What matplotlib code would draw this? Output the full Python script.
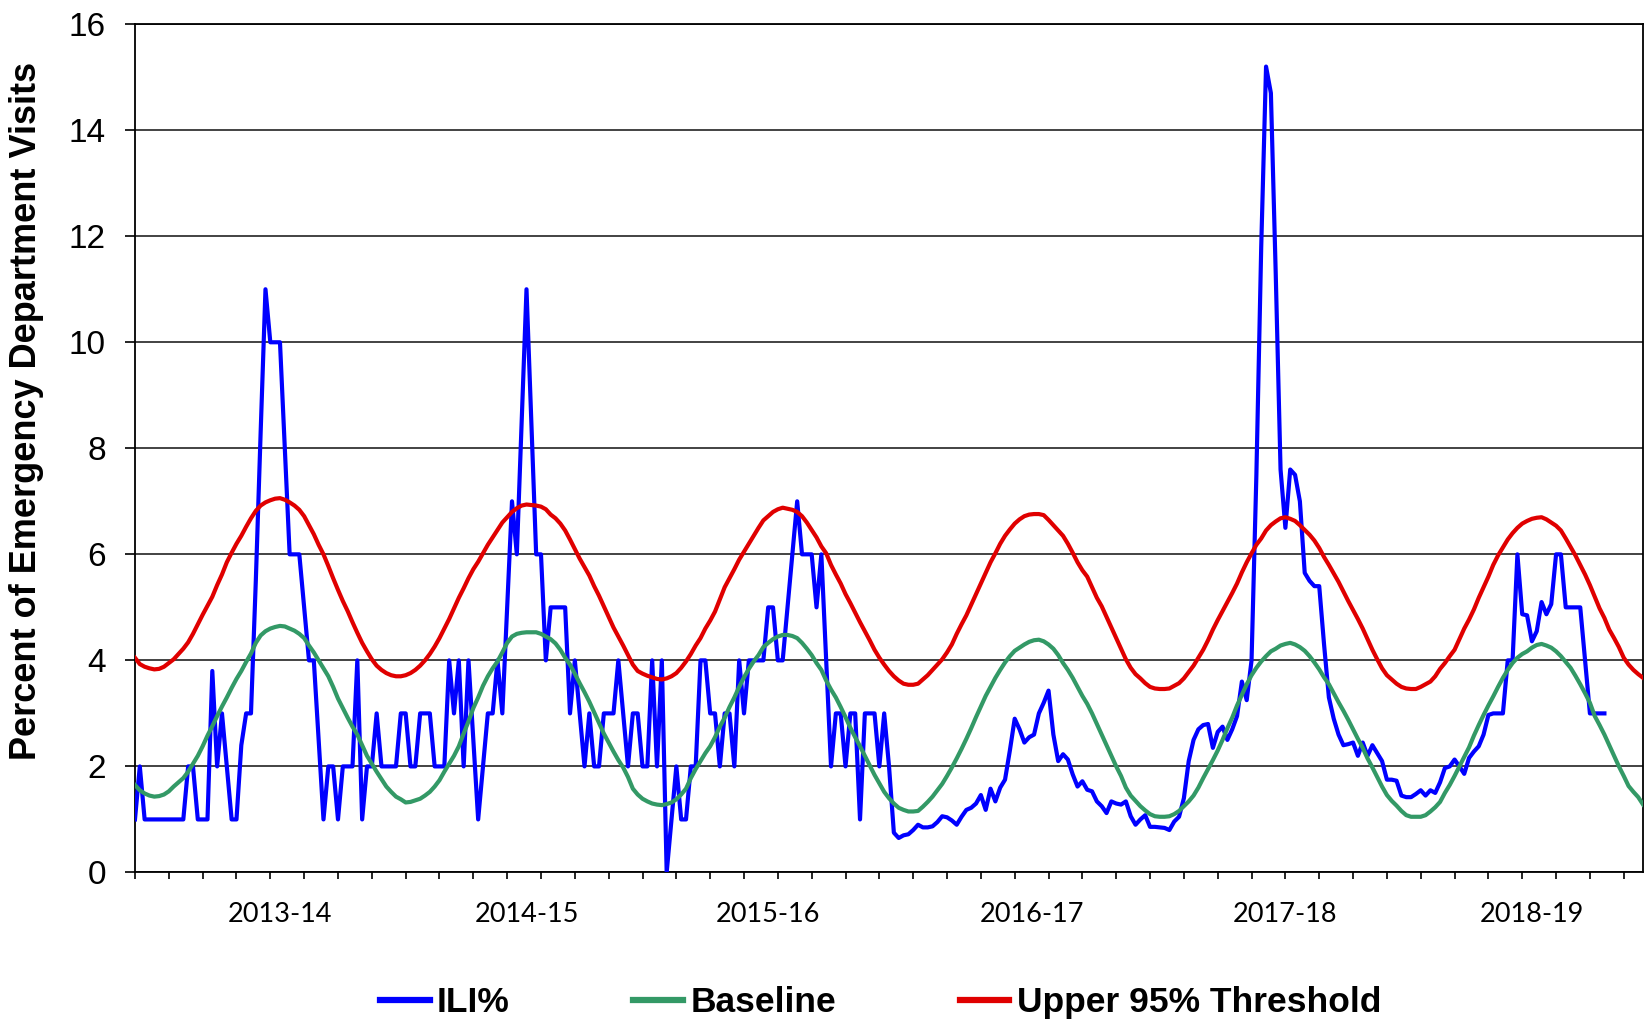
import numpy as np
import matplotlib
matplotlib.use("Agg")
import matplotlib.pyplot as plt
import matplotlib.transforms as mtransforms

plt.rcParams['font.family'] = ['Liberation Sans', 'DejaVu Sans']

# weekly ILI % of ED visits (week 0 = first week shown)
ili = [
    1, 2, 1, 1, 1, 1, 1, 1, 1, 1,
    1, 2, 2, 1, 1, 1, 3.8, 2, 3, 2,
    1, 1, 2.4, 3, 3, 5.5, 8.3, 11, 10, 10,
    10, 8, 6, 6, 6, 5, 4, 4, 2.5, 1,
    2, 2, 1, 2, 2, 2, 4, 1, 2, 2,
    3, 2, 2, 2, 2, 3, 3, 2, 2, 3,
    3, 3, 2, 2, 2, 4, 3, 4, 2, 4,
    2.5, 1, 2, 3, 3, 4, 3, 5, 7, 6,
    8.5, 11, 8.5, 6, 6, 4, 5, 5, 5, 5,
    3, 4, 3, 2, 3, 2, 2, 3, 3, 3,
    4, 3, 2, 3, 3, 2, 2, 4, 2, 4,
    0, 1, 2, 1, 1, 2, 2, 4, 4, 3,
    3, 2, 3, 3, 2, 4, 3, 4, 4, 4,
    4, 5, 5, 4, 4, 5, 6, 7, 6, 6,
    6, 5, 6, 4, 2, 3, 3, 2, 3, 3,
    1, 3, 3, 3, 2, 3, 2, 0.75, 0.65, 0.7,
    0.72, 0.8, 0.9, 0.85, 0.85, 0.87, 0.95, 1.06, 1.04, 0.98,
    0.9, 1.05, 1.18, 1.22, 1.3, 1.46, 1.18, 1.58, 1.34, 1.6,
    1.75, 2.3, 2.9, 2.7, 2.45, 2.55, 2.6, 3.0, 3.2, 3.43,
    2.6, 2.1, 2.23, 2.13, 1.85, 1.62, 1.72, 1.56, 1.53, 1.34,
    1.25, 1.12, 1.34, 1.3, 1.28, 1.34, 1.06, 0.9, 1.0, 1.08,
    0.86, 0.86, 0.85, 0.84, 0.8, 0.96, 1.05, 1.4, 2.1, 2.5,
    2.7, 2.78, 2.8, 2.35, 2.65, 2.75, 2.5, 2.7, 2.95, 3.6,
    3.25, 4.0, 7.5, 11.8, 15.2, 14.7, 11.3, 7.6, 6.5, 7.6,
    7.5, 7.0, 5.65, 5.5, 5.4, 5.4, 4.3, 3.3, 2.9, 2.6,
    2.4, 2.42, 2.45, 2.2, 2.45, 2.2, 2.4, 2.25, 2.1, 1.75,
    1.75, 1.73, 1.45, 1.42, 1.42, 1.48, 1.55, 1.45, 1.55, 1.5,
    1.7, 1.97, 2.0, 2.13, 2.0, 1.86, 2.16, 2.28, 2.38, 2.6,
    2.97, 3, 3, 3, 4, 4, 6, 4.87, 4.85, 4.36,
    4.55, 5.1, 4.87, 5.06, 6, 6, 5, 5, 5, 5,
    4, 3, 3, 3, 3,
]

baseline = [
    1.65, 1.55, 1.49, 1.45, 1.43, 1.44, 1.47, 1.53, 1.62, 1.7,
    1.78, 1.9, 2.05, 2.2, 2.38, 2.58, 2.76, 2.95, 3.13, 3.3,
    3.48, 3.65, 3.8, 3.97, 4.13, 4.33, 4.47, 4.55, 4.6, 4.63,
    4.65, 4.64, 4.6, 4.56, 4.5, 4.42, 4.28, 4.15, 4.0, 3.85,
    3.7, 3.5, 3.28, 3.1, 2.92, 2.75, 2.6, 2.4, 2.2, 2.05,
    1.9, 1.76, 1.62, 1.52, 1.43, 1.38, 1.32, 1.33, 1.36, 1.39,
    1.45, 1.52, 1.62, 1.74, 1.9, 2.05, 2.2, 2.38, 2.62, 2.85,
    3.1, 3.3, 3.52, 3.7, 3.85, 3.98, 4.15, 4.33, 4.45, 4.5,
    4.52, 4.53, 4.53, 4.53, 4.5, 4.45, 4.4, 4.32, 4.2, 4.05,
    3.92, 3.75, 3.57, 3.4, 3.22, 3.02, 2.82, 2.62, 2.45, 2.28,
    2.12, 1.98, 1.8, 1.58, 1.47, 1.39, 1.34, 1.3, 1.28, 1.27,
    1.29, 1.32, 1.38, 1.47, 1.58, 1.78, 1.95, 2.1, 2.25, 2.38,
    2.55, 2.75, 2.92, 3.12, 3.3, 3.5, 3.68, 3.84, 3.98, 4.1,
    4.25, 4.33, 4.4, 4.45, 4.48, 4.48, 4.46, 4.42, 4.33, 4.22,
    4.1, 3.95, 3.82, 3.62, 3.45, 3.3, 3.12, 2.93, 2.73, 2.55,
    2.38, 2.2, 2.02, 1.84, 1.68, 1.52, 1.4, 1.3, 1.22, 1.18,
    1.15, 1.15, 1.16, 1.24, 1.33, 1.43, 1.55, 1.67, 1.82, 1.98,
    2.15, 2.33, 2.52, 2.72, 2.93, 3.13, 3.33, 3.5, 3.67, 3.82,
    3.96, 4.08, 4.18, 4.24, 4.3, 4.35, 4.38, 4.39, 4.36, 4.3,
    4.22, 4.1, 3.95, 3.82, 3.67, 3.5, 3.33, 3.18, 3.0, 2.8,
    2.6, 2.4, 2.2, 2.0, 1.82, 1.6, 1.45, 1.35, 1.25, 1.17,
    1.1, 1.06, 1.05, 1.05, 1.06, 1.1, 1.16, 1.25, 1.34, 1.45,
    1.6, 1.78, 1.95, 2.12, 2.3, 2.5, 2.72, 2.92, 3.15, 3.35,
    3.55, 3.72, 3.86, 3.98, 4.08, 4.17, 4.22, 4.28, 4.31, 4.33,
    4.3, 4.25, 4.18, 4.08, 3.96, 3.83, 3.68, 3.55, 3.38, 3.21,
    3.05, 2.88, 2.7, 2.52, 2.35, 2.15, 1.98, 1.8, 1.62, 1.46,
    1.35, 1.26, 1.16, 1.08, 1.05, 1.05, 1.05, 1.08, 1.15, 1.23,
    1.33, 1.5, 1.65, 1.82, 2.0, 2.18, 2.36, 2.58, 2.78, 2.97,
    3.15, 3.32, 3.5, 3.67, 3.82, 3.95, 4.05, 4.12, 4.17, 4.24,
    4.29, 4.31, 4.28, 4.24, 4.17, 4.08, 3.97, 3.86, 3.71, 3.55,
    3.38, 3.2, 2.95, 2.78, 2.6, 2.4, 2.2, 2.0, 1.82, 1.63,
    1.52, 1.42, 1.28,
]

threshold = [
    4.05, 3.93, 3.88, 3.85, 3.83, 3.84, 3.88, 3.95, 4.02, 4.12,
    4.22, 4.34, 4.5, 4.68, 4.86, 5.03, 5.2, 5.42, 5.62, 5.85,
    6.03, 6.2, 6.35, 6.52, 6.68, 6.82, 6.92, 6.98, 7.02, 7.05,
    7.06, 7.03, 6.98, 6.92, 6.84, 6.72, 6.55, 6.38, 6.18, 6.0,
    5.78, 5.55, 5.33, 5.12, 4.93, 4.72, 4.52, 4.33, 4.17, 4.02,
    3.9, 3.82, 3.76, 3.72, 3.7, 3.7, 3.72, 3.76, 3.82, 3.9,
    4.0, 4.12, 4.26, 4.42, 4.6, 4.78, 4.98, 5.18, 5.36, 5.55,
    5.72, 5.86, 6.02, 6.18, 6.32, 6.46, 6.6, 6.7, 6.8, 6.87,
    6.92, 6.94, 6.93, 6.92, 6.9, 6.85, 6.75, 6.68, 6.58, 6.45,
    6.28, 6.1, 5.92, 5.76, 5.6, 5.4, 5.22, 5.02, 4.82, 4.62,
    4.45, 4.28, 4.1, 3.92, 3.8, 3.75, 3.71, 3.68, 3.65, 3.64,
    3.66, 3.7, 3.76, 3.86, 3.98, 4.12, 4.28, 4.42, 4.6, 4.75,
    4.92, 5.15, 5.38, 5.55, 5.72, 5.9, 6.05, 6.2, 6.35, 6.5,
    6.64, 6.72, 6.8, 6.85, 6.88, 6.86, 6.84, 6.8, 6.72, 6.6,
    6.46, 6.32, 6.15, 6.02, 5.8, 5.62, 5.45, 5.25, 5.08, 4.9,
    4.72, 4.55, 4.38, 4.2, 4.05, 3.92, 3.8, 3.7, 3.62, 3.56,
    3.54, 3.54, 3.56, 3.64, 3.72, 3.82, 3.92, 4.02, 4.15, 4.3,
    4.5, 4.68, 4.85, 5.05, 5.25, 5.45, 5.65, 5.85, 6.02, 6.2,
    6.35, 6.47, 6.58, 6.66, 6.72, 6.75, 6.76, 6.76, 6.74, 6.65,
    6.55, 6.45, 6.35, 6.2, 6.03, 5.85, 5.7, 5.58, 5.38, 5.18,
    5.02, 4.82, 4.62, 4.42, 4.22, 4.02, 3.86, 3.74, 3.66, 3.57,
    3.5, 3.47, 3.46, 3.46, 3.47, 3.52, 3.57, 3.66, 3.78, 3.9,
    4.05, 4.2, 4.38, 4.58, 4.76, 4.93, 5.1, 5.27, 5.45, 5.66,
    5.85, 6.02, 6.18, 6.3, 6.45, 6.55, 6.62, 6.68, 6.7, 6.67,
    6.63, 6.55, 6.46, 6.37, 6.26, 6.12, 5.95, 5.8, 5.64, 5.48,
    5.3, 5.12, 4.95, 4.78, 4.6, 4.4, 4.2, 4.02, 3.85, 3.72,
    3.64, 3.56, 3.5, 3.47, 3.46, 3.46, 3.5, 3.55, 3.6, 3.7,
    3.84, 3.95, 4.08, 4.2, 4.4, 4.6, 4.77, 4.96, 5.18, 5.38,
    5.58, 5.8, 5.98, 6.13, 6.28, 6.4, 6.5, 6.58, 6.63, 6.67,
    6.69, 6.7, 6.66, 6.6, 6.54, 6.45, 6.3, 6.14, 5.98, 5.8,
    5.62, 5.42, 5.2, 4.98, 4.8, 4.58, 4.42, 4.25, 4.05, 3.92,
    3.82, 3.74, 3.67,
]

seasons = ['2013-14', '2014-15', '2015-16', '2016-17', '2017-18', '2018-19']
season_pos = [30, 81, 131, 185.5, 238, 289]

weeks_ili = np.arange(len(ili))
weeks = np.arange(len(baseline))

fig = plt.figure(figsize=(16.52, 10.24), dpi=100)
ax = fig.add_axes([0.0817, 0.148, 0.9129, 0.8284])

ax.plot(weeks_ili, ili, color='#0000FF', lw=3.0, label='ILI%', zorder=3)
ax.plot(weeks, baseline, color='#339966', lw=3.0, label='Baseline', zorder=4)
ax.plot(weeks, threshold, color='#E00000', lw=3.0, label='Upper 95% Threshold', zorder=5)

ax.set_xlim(0, len(baseline) - 1)
ax.set_ylim(0, 16)
ax.set_yticks(np.arange(0, 17, 2))
ax.set_xticks(np.arange(0, len(baseline), 7))
ax.set_xticklabels([])
ax.grid(axis='y', color='#222222', lw=1.2)
ax.set_axisbelow(True)
for s in ax.spines.values():
    s.set_color('black')
    s.set_linewidth(1.3)
ax.tick_params(axis='y', labelsize=24, length=7, width=1.2, pad=14)
ax.tick_params(axis='x', length=5, width=1.2)

trans = mtransforms.blended_transform_factory(ax.transData, ax.transAxes)
for lab, pos in zip(seasons, season_pos):
    ax.text(pos, -0.05, lab, transform=trans, ha='center', va='center',
            fontsize=19.5, family=['Lato', 'DejaVu Sans'])

fig.text(0.016, 0.599, 'Percent of Emergency Department Visits', rotation=90,
         ha='center', va='center', fontsize=26, fontweight='bold')

leg = fig.legend(loc='center', bbox_to_anchor=(0.533, 0.021), ncol=3, frameon=False,
                 prop={'size': 25.5, 'weight': 'bold'}, handlelength=1.4,
                 handletextpad=0.2, columnspacing=3.5)
for line in leg.get_lines():
    line.set_linewidth(4.5)

fig.savefig('out.png', dpi=100)
